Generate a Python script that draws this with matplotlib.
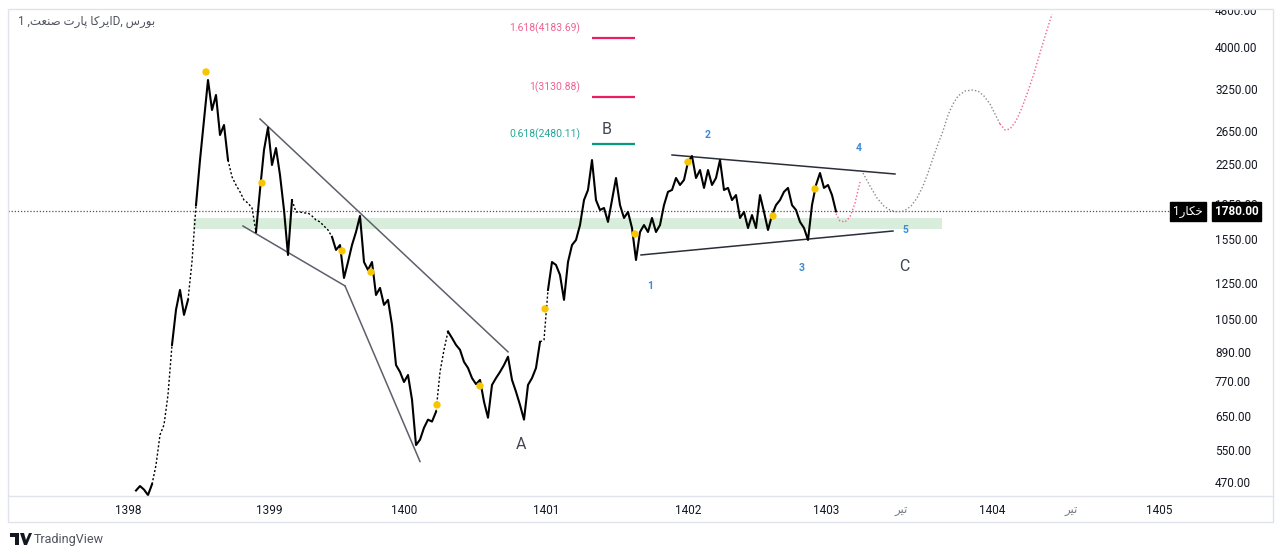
import numpy as np
import matplotlib.pyplot as plt
from matplotlib.patches import Rectangle, Polygon
from matplotlib.lines import Line2D
from matplotlib.ticker import FixedLocator, NullLocator

plt.rcParams['font.family'] = ['Roboto', 'DejaVu Sans']

W, H = 1280, 557

# closes, one per bar slot (x = bar index)
closes = [
    450, 460, 452, 440, 464, 510, 592, 622, 721, 922,
    1096, 1209, 1069, 1151, 1390, 1836, 2292, 2792, 3400, 2933,
    3158, 2593, 2724, 2292, 2110, 2027, 1960, 1882, 1854, 1810,
    1608, 1978, 2408, 2690, 2237, 2432, 2129, 1792, 1436, 1882,
    1775, 1775, 1766, 1766, 1740, 1706, 1690, 1656, 1624, 1570,
    1472, 1508, 1282, 1387, 1508, 1608, 1740, 1387, 1334, 1387,
    1179, 1221, 1123, 1151, 1017, 835, 807, 768, 795, 704,
    563, 578, 613, 638, 632, 663, 807, 900, 985, 954,
    922, 900, 848, 823, 783, 760, 776, 697, 644, 757,
    783, 807, 835, 870, 776, 732, 686, 638, 757, 783,
    823, 936, 945, 1209, 1387, 1367, 1301, 1151, 1387, 1508,
    1546, 1664, 1882, 1978, 2292, 1882, 1792, 1810, 1690, 1882,
    2098, 1836, 1723, 1775, 1640, 1401, 1608, 1664, 1608, 1723,
    1608, 1664, 1836, 1960, 1978, 2098, 2027, 2078, 2270, 2338,
    2098, 2182, 1998, 2182, 2027, 2098, 2292, 1978, 1998, 1882,
    1929, 1723, 1775, 1640, 1748, 1640, 1929, 1775, 1624, 1748,
    1836, 1882, 1960, 1998, 1836, 1792, 1690, 1640, 1546, 1836,
    2027, 2150, 1998, 2027, 1929, 1780,
]
last_price = 1780.0

# stretches with few trades (drawn dotted): bar index ranges
thin_runs = [(4, 9), (13, 15), (23, 30), (39, 49), (75, 78), (101, 103)]

# projected path after the last bar
proj1_x = [175, 176, 177.25, 178.5, 179.75, 181]
proj1_y = [1760, 1698, 1690, 1732, 1854, 2057]
proj2_x = [181.75, 183.5, 185.25, 187, 188.5, 190.25, 192, 193.75, 195.25, 196.75,
           198, 199.25, 200.5, 201.75, 203, 204.25, 205.5, 207.25, 209, 210.5,
           212, 213.5, 214.75, 216]
proj2_y = [2150, 2017, 1901, 1826, 1792, 1775, 1783, 1826, 1901, 2017,
           2150, 2315, 2480, 2645, 2861, 3021, 3142, 3220, 3236, 3220,
           3142, 3021, 2876, 2738]
proj3_x = [216, 217.25, 218.5, 220, 221.5, 223, 224.5, 226, 227.5, 229]
proj3_y = [2738, 2658, 2671, 2778, 2969, 3216, 3515, 3885, 4284, 4700]

# trend lines (x0, p0, x1, p1)
wedge_lines = [(31, 2806, 93, 891), (26.75, 1656, 52.25, 1233), (52.25, 1233, 71, 519)]
triangle_lines = [(134, 2350, 189.75, 2140), (126.25, 1436, 189.25, 1616)]

# support zone: x0, x1, low, high
zone = (14.25, 201.5, 1630, 1720)

pivot_x = [17.5, 31.5, 51.5, 58.75, 75.25, 86, 102.25, 124.75, 138, 159.25, 169.75]
pivot_y = [3537, 2047, 1465, 1320, 686, 753, 1101, 1592, 2270, 1740, 1988]

fib_labels = ['1.618(4183.69)', '1(3130.88)', '0.618(2480.11)']
fib_prices = [4183.69, 3130.88, 2480.11]

wave_text = ['1', '2', '3', '4', '5']
wave_x = [128.5, 143, 166.5, 180.75, 192.25]
wave_y = [1233, 2593, 1347, 2432, 1624]

abc_text = ['A', 'B', 'C']
abc_x = [96.25, 117.75, 192]
abc_y = [564, 2658, 1354]

y_ticks = [470, 550, 650, 770, 890, 1050, 1250, 1550, 1850, 2250, 2650, 3250, 4000, 4800]

# persian words written in visual (left-to-right) order with joined letter forms
w_tir = '\uFEAE\uFEF4\uFE97'            # تیر
w_bourse = '\uFEB1\uFEAD\uFEEE\uFE91'   # بورس
w_irka = '\uFE8E\uFB90\uFEAE\uFEF3\uFE8D'  # ایرکا
w_part = '\uFE95\uFEAD\uFE8E\uFB58'     # پارت
w_sanat = '\uFE96\uFECC\uFEE8\uFEBB'    # صنعت
w_ticker = '\uFEAD\uFE8E\uFB91\uFEA7'   # خکار

x_tick_pos = [-2, 33.25, 67, 102.5, 138, 172.5, 191.25, 214, 233.75, 255.75]
x_tick_lab = ['1398', '1399', '1400', '1401', '1402', '1403', w_tir, '1404', w_tir, '1405']

title = '1 ,' + w_sanat + ' ' + w_part + ' ' + w_irka + 'D, ' + w_bourse
ticker = '1' + w_ticker

fig = plt.figure(figsize=(W / 100, H / 100), dpi=100)
ax = fig.add_axes([8 / W, (H - 496) / H, (1190 - 8) / W, (496 - 10) / H])
ax.set_xlim(-32, 263.5)
ax.set_yscale('log')
ax.set_ylim(438, 4800)
for s in ax.spines.values():
    s.set_visible(False)

# zone + last price line
ax.fill_between([zone[0], zone[1]], zone[2], zone[3], color='#d8eddb', lw=0, zorder=0)
ax.axhline(last_price, color='#50535e', ls=(0, (1, 1.5)), lw=0.9, zorder=1)

# price, split into dense and thin stretches
bars = np.arange(len(closes))
thin = np.zeros(len(closes) - 1, dtype=bool)
for a, b in thin_runs:
    thin[a:b] = True
start = 0
for i in range(1, len(thin) + 1):
    if i == len(thin) or thin[i] != thin[start]:
        seg = slice(start, i + 1)
        if thin[start]:
            ax.plot(bars[seg], np.array(closes)[seg], color='black', lw=1.0,
                    ls=(0, (1.5, 1.5)), zorder=3)
        else:
            ax.plot(bars[seg], np.array(closes)[seg], color='black', lw=1.5, zorder=3)
        start = i

# projections
ax.plot(proj1_x, proj1_y, color='#f06292', ls=(0, (1, 1.5)), lw=1, zorder=3)
ax.plot(proj2_x, proj2_y, color='#8a8a8a', ls=(0, (1, 1.5)), lw=1, zorder=3)
ax.plot(proj3_x, proj3_y, color='#f06292', ls=(0, (1, 1.5)), lw=1, zorder=3)

for x0, p0, x1, p1 in wedge_lines:
    ax.plot([x0, x1], [p0, p1], color='#5d606b', lw=1.1, zorder=2)
for x0, p0, x1, p1 in triangle_lines:
    ax.plot([x0, x1], [p0, p1], color='#2a2e39', lw=1.1, zorder=2)

ax.scatter(pivot_x, pivot_y, s=28, color='#f7c600', edgecolors='none', zorder=5)

# fib levels
fib_line_col = ['#e91e63', '#e91e63', '#089981']
fib_text_col = ['#f06292', '#f06292', '#26a69a']
for lab, p, lc, tc in zip(fib_labels, fib_prices, fib_line_col, fib_text_col):
    ax.hlines(p, 114, 124.75, color=lc, lw=1.6, zorder=4)
    ax.text(111, p * 1.05, lab, color=tc, fontsize=7.5, ha='right', va='center')

for t, x, y in zip(wave_text, wave_x, wave_y):
    ax.text(x, y, t, color='#3d8ad6', fontsize=7.5, fontweight='bold', ha='center', va='center')
for t, x, y in zip(abc_text, abc_x, abc_y):
    ax.text(x, y, t, color='#434651', fontsize=11.5, ha='center', va='center')

# axes ticks
ax.yaxis.tick_right()
ax.yaxis.set_major_locator(FixedLocator(y_ticks))
ax.yaxis.set_minor_locator(NullLocator())
ax.set_yticklabels([f'{v:.2f}' for v in y_ticks])
ax.tick_params(axis='y', length=0, pad=18, labelsize=8.5, labelcolor='#131722')
ax.set_xticks(x_tick_pos)
ax.set_xticklabels(x_tick_lab)
ax.tick_params(axis='x', length=0, pad=6, labelsize=8.5, labelcolor='#131722')
for lbl in ax.get_xticklabels():
    if lbl.get_text() == w_tir:
        lbl.set_color('#787b86')

# price labels
ax.text(1.0395, last_price, '1780.00', transform=ax.get_yaxis_transform(),
        color='white', fontsize=8.5, fontweight='bold', ha='center', va='center', zorder=10,
        bbox=dict(boxstyle='square,pad=0.25', fc='black', ec='black'))
ax.text(0.9985, last_price, ticker, transform=ax.get_yaxis_transform(),
        color='white', fontsize=8.5, ha='center', va='center', zorder=10,
        bbox=dict(boxstyle='square,pad=0.25', fc='black', ec='black'))

ax.text(10 / 1182, 1 - 12 / 486, title, transform=ax.transAxes, fontsize=8.5,
        color='#50535e', ha='left', va='center')

# frame
fig.add_artist(Rectangle((1190 / W, 1 - 9 / H), 90 / W, 9 / H, transform=fig.transFigure,
                         fc='white', ec='none', zorder=10))
fig.add_artist(Rectangle((8 / W, 1 - 522 / H), 1265 / W, 513 / H, transform=fig.transFigure,
                         fc='none', ec='#e0e3eb', lw=1, zorder=11))
fig.add_artist(Line2D([8 / W, 1273 / W], [1 - 496 / H] * 2, transform=fig.transFigure,
                      color='#e0e3eb', lw=1, zorder=11))

# TradingView mark
fig.add_artist(Rectangle((10 / W, 1 - 537 / H), 9 / W, 4 / H, transform=fig.transFigure,
                         fc='#131722', ec='none'))
fig.add_artist(Rectangle((15 / W, 1 - 545 / H), 4 / W, 12 / H, transform=fig.transFigure,
                         fc='#131722', ec='none'))
fig.add_artist(Polygon([(20 / W, 1 - 533 / H), (24 / W, 1 - 533 / H), (26 / W, 1 - 540 / H),
                        (29 / W, 1 - 533 / H), (32 / W, 1 - 533 / H), (27 / W, 1 - 545 / H),
                        (24 / W, 1 - 545 / H)], transform=fig.transFigure, fc='#131722', ec='none'))
fig.text(34 / W, 1 - 539 / H, 'TradingView', fontsize=9, color='#50535e', va='center', ha='left')

fig.savefig('out.png', dpi=100)
